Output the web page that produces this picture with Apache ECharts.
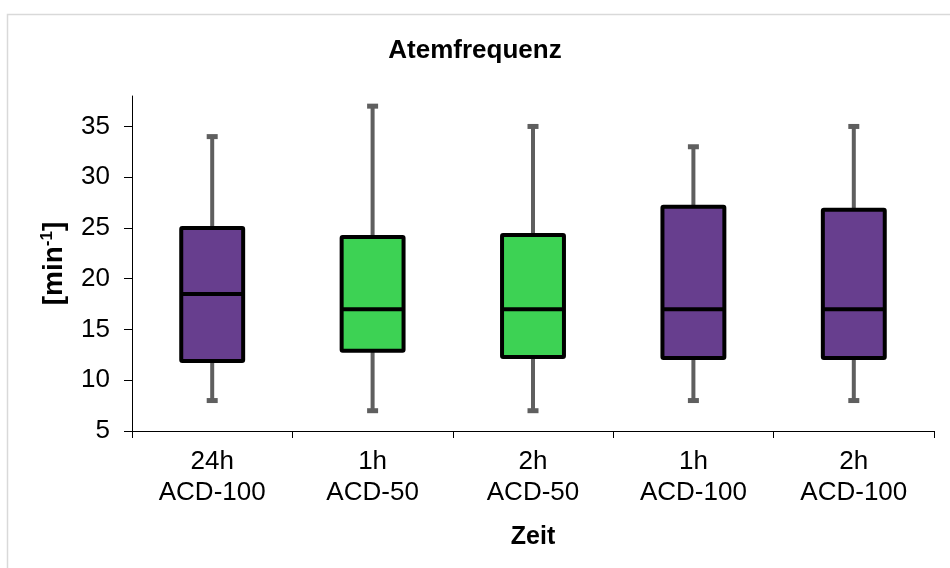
<!DOCTYPE html>
<html>
<head>
<meta charset="utf-8">
<script src="https://cdn.jsdelivr.net/npm/echarts@6/dist/echarts.min.js"></script>
<style>
html,body{margin:0;padding:0;background:#fff;}
#chart{width:950px;height:568px;}
</style>
</head>
<body>
<div id="chart"></div>
<script>
// ---- data ----
const categories = ['24h\nACD-100', '1h\nACD-50', '2h\nACD-50', '1h\nACD-100', '2h\nACD-100'];
const mins    = [8, 7, 7, 8, 8];
const q1s     = [11.9, 12.9, 12.3, 12.2, 12.2];
const medians = [18.5, 17, 17, 17, 17];
const q3s     = [25, 24.1, 24.3, 27.1, 26.8];
const maxs    = [34, 37, 35, 33, 35];
const groups  = ['ACD-100', 'ACD-50', 'ACD-50', 'ACD-100', 'ACD-100'];
const yTicks  = [5, 10, 15, 20, 25, 30, 35];

const groupColors = { 'ACD-100': '#673e8e', 'ACD-50': '#3dd254' };
const FONT = '"Liberation Sans", Arial, sans-serif';

const data = categories.map((c, i) => [i, mins[i], q1s[i], medians[i], q3s[i], maxs[i]]);

function renderBox(params, api) {
  const idx = api.value(0);
  const pMin = api.coord([idx, api.value(1)]);
  const pQ1 = api.coord([idx, api.value(2)]);
  const pMed = api.coord([idx, api.value(3)]);
  const pQ3 = api.coord([idx, api.value(4)]);
  const pMax = api.coord([idx, api.value(5)]);
  const bandW = api.size([1, 0])[0];
  const boxW = bandW * 0.386;
  const capW = 11;
  const x = pMed[0];
  const whiskerStyle = { stroke: '#5f5f5f', lineWidth: 4 };
  const fill = groupColors[groups[idx]];
  return {
    type: 'group',
    children: [
      { type: 'line', shape: { x1: x, y1: pQ3[1], x2: x, y2: pMax[1] }, style: whiskerStyle },
      { type: 'line', shape: { x1: x - capW / 2, y1: pMax[1], x2: x + capW / 2, y2: pMax[1] }, style: { stroke: '#5f5f5f', lineWidth: 5 } },
      { type: 'line', shape: { x1: x, y1: pQ1[1], x2: x, y2: pMin[1] }, style: whiskerStyle },
      { type: 'line', shape: { x1: x - capW / 2, y1: pMin[1], x2: x + capW / 2, y2: pMin[1] }, style: { stroke: '#5f5f5f', lineWidth: 5 } },
      { type: 'rect', shape: { x: x - boxW / 2, y: pQ3[1], width: boxW, height: pQ1[1] - pQ3[1], r: 1 },
        style: { fill: fill, stroke: '#000', lineWidth: 4, lineJoin: 'round' } },
      { type: 'line', shape: { x1: x - boxW / 2, y1: pMed[1], x2: x + boxW / 2, y2: pMed[1] },
        style: { stroke: '#000', lineWidth: 4 } }
    ]
  };
}

const chart = echarts.init(document.getElementById('chart'), null, { renderer: 'canvas' });
chart.setOption({
  backgroundColor: '#fff',
  animation: false,
  graphic: [{
    type: 'rect', left: 5, top: 12, shape: { width: 960, height: 580 },
    style: { fill: 'none', stroke: '#d9d9d9', lineWidth: 1.5 }, silent: true, z: -10
  }],
  title: {
    text: 'Atemfrequenz', left: 'center', top: 33,
    textStyle: { fontFamily: FONT, fontSize: 26, fontWeight: 'bold', color: '#000' }
  },
  grid: { left: 132, right: 16, top: 96, bottom: 137, containLabel: false },
  xAxis: {
    type: 'category', data: categories,
    name: 'Zeit', nameLocation: 'middle', nameGap: 94,
    nameTextStyle: { fontFamily: FONT, fontSize: 25, fontWeight: 'bold', color: '#000' },
    axisLine: { lineStyle: { color: '#000', width: 1 } },
    axisTick: { show: true, alignWithLabel: false, length: 7, lineStyle: { color: '#000' } },
    axisLabel: { fontFamily: FONT, fontSize: 26, color: '#000', lineHeight: 31, margin: 15, interval: 0 },
    splitLine: { show: false }
  },
  yAxis: {
    type: 'value', min: 5, max: 38,
    name: '{a|[min}{s|-1}{a|]}', nameLocation: 'middle', nameRotate: 90, nameGap: 63,
    nameTextStyle: {
      rich: {
        a: { fontFamily: FONT, fontSize: 28, fontWeight: 'bold', color: '#000', lineHeight: 30 },
        s: { fontFamily: FONT, fontSize: 17, fontWeight: 'bold', color: '#000', verticalAlign: 'top', lineHeight: 30 }
      }
    },
    axisLine: { show: true, lineStyle: { color: '#000', width: 1 } },
    axisTick: { show: true, length: 8, customValues: yTicks, lineStyle: { color: '#000' } },
    axisLabel: { fontFamily: FONT, fontSize: 26, color: '#000', margin: 22, customValues: yTicks },
    splitLine: { show: false }
  },
  series: [{
    type: 'custom',
    renderItem: renderBox,
    data: data,
    encode: { x: 0, y: [1, 2, 3, 4, 5] },
    clip: false
  }]
});
</script>
</body>
</html>
